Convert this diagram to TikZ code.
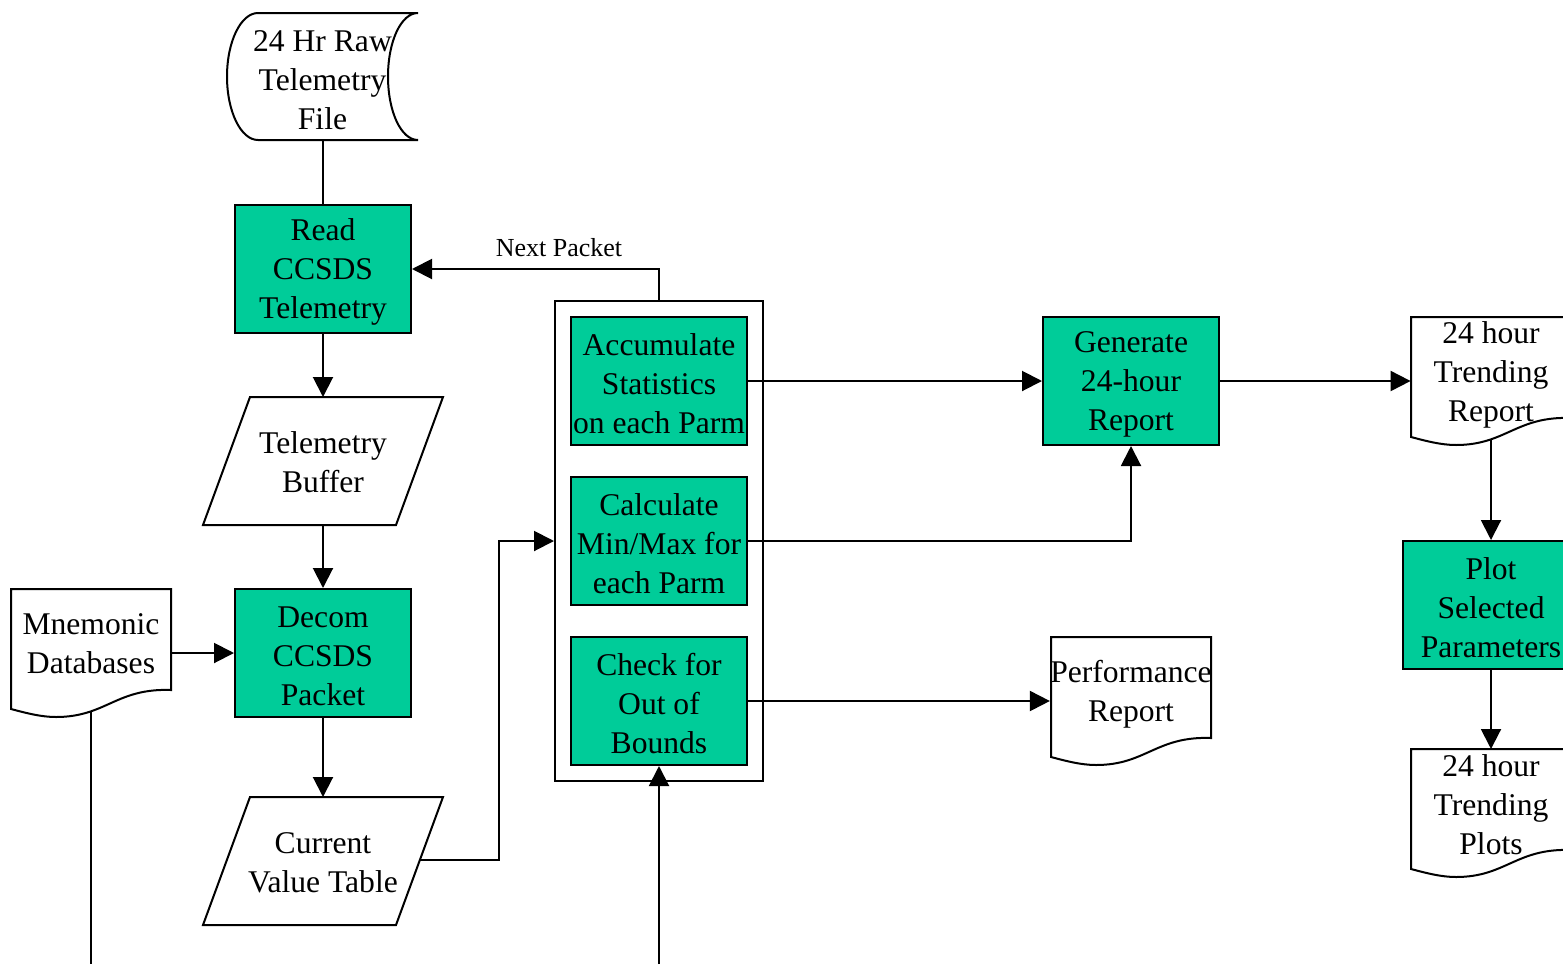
\documentclass[tikz,border=0pt]{standalone}
\usepackage{fontspec}
\setmainfont{Liberation Serif}
\usetikzlibrary{arrows.meta,calc}
\definecolor{procgreen}{HTML}{00CC99}
\tikzset{
  txt/.style={font=\fontsize{15.8}{19.5}\selectfont},
  proc/.style={draw, fill=procgreen, line width=1pt, minimum width=88pt,
    minimum height=64pt, inner sep=0pt},
  lbl/.style={txt, inner sep=0pt, align=center},
  arr/.style={line width=1pt, -{Triangle[length=10pt,width=10pt]}},
  link/.style={line width=1pt},
  outline/.style={draw, line width=1pt, fill=white},
  % page with a wavy lower edge, 160 x 128 units, anchored at its top left corner
  docshape/.pic={
    \path[outline] (0,0) -- (160,0) -- (160,101)
      .. controls (105,99) and (95,128) .. (45,128)
      .. controls (30,128) and (15,124) .. (0,120) -- cycle;
  }
}
% green process box with its caption set slightly low, as the lines sit optically
\newcommand\stepbox[3]{%
  \node[proc] (#1) at (#2) {};
  \node[lbl] (#1-text) at ($(#1)+(0,3)$) {#3};
}
\begin{document}
\begin{tikzpicture}[x=0.5pt,y=-0.5pt,line join=miter]
\useasboundingbox (0,0) rectangle (1563,964);
\fill[white] (0,0) rectangle (1563,964);
\clip (0,0) rectangle (1563,964);

% stored data: raw telemetry file
\path[outline] (258,13) -- (418,13)
  .. controls (401,13) and (388,41.5) .. (388,76.5)
  .. controls (388,111.5) and (401,140) .. (418,140) -- (258,140)
  .. controls (240.9,140) and (227,111.5) .. (227,76.5)
  .. controls (227,41.5) and (240.9,13) .. (258,13) -- cycle;
\node[lbl, minimum width=95.5pt] (raw) at (322.5,80) {24 Hr Raw\\Telemetry\\File};
\coordinate (raw-b) at (323,140);

% data buffers
\path[outline] (250,397) -- (443,397) -- (396,525) -- (203,525) -- cycle;
\node[lbl, minimum width=120pt, minimum height=64pt] (buf) at (323,462) {Telemetry\\Buffer};
\path[outline] (250,797) -- (443,797) -- (396,925) -- (203,925) -- cycle;
\node[lbl, minimum width=120pt, minimum height=64pt] (cvt) at (323,863) {Current\\Value Table};
\coordinate (buf-t) at (323,397);
\coordinate (buf-b) at (323,525);
\coordinate (cvt-t) at (323,797);
\coordinate (cvt-r) at (419.9,860);
\coordinate (cvt-bend) at (499,860);

% documents
\pic at (11,589) {docshape};
\node[lbl, minimum width=80pt] (mnem) at (91,644) {Mnemonic\\Databases};
\coordinate (mnem-b) at (91,711);
\coordinate (mnem-end) at (91,964);

\pic at (1051,637) {docshape};
\node[lbl, minimum width=80pt] (perf) at (1131,694) {Performance\\Report};

\pic at (1411,317) {docshape};
\node[lbl, minimum width=80pt] (trep) at (1491,375) {24 hour\\Trending\\Report};
\coordinate (trep-b) at (1491,439);

\pic at (1411,749) {docshape};
\node[lbl, minimum width=80pt] (tplot) at (1491,805) {24 hour\\Trending\\Plots};
\coordinate (tplot-top) at (1491,749);

% processing steps
\stepbox{read}{323,269}{Read\\CCSDS\\Telemetry}
\stepbox{decom}{323,653}{Decom\\CCSDS\\Packet}
\node[draw, line width=1pt, minimum width=104pt, minimum height=240pt, inner sep=0pt] (outer) at (659,541) {};
\stepbox{acc}{659,381}{Accumulate\\Statistics\\on each Parm}
\stepbox{calc}{659,541}{Calculate\\Min/Max for\\each Parm}
\stepbox{check}{659,701}{Check for\\Out of\\Bounds}
\stepbox{gen}{1131,381}{Generate\\24-hour\\Report}
\stepbox{plot}{1491,605}{Plot\\Selected\\Parameters}
\coordinate (chk-in) at (659,964);

% connectors
\draw[link] (raw-b) -- (read.north);
\draw[arr] (read.south) -- (buf-t);
\draw[arr] (buf-b) -- (decom.north);
\draw[arr] (decom.south) -- (cvt-t);
\draw[arr] (mnem.east |- decom.west) -- (decom.west);
\draw[link] (mnem-b) -- (mnem-end);
\draw[arr] (cvt-r) -- (cvt-bend) |- (outer.west);
\draw[arr] (outer.north) |- (read.east);
\node[font=\fontsize{13}{15}\selectfont, inner sep=0pt] (next) at (559,248) {Next Packet};
\draw[arr] (acc.east) -- (gen.west);
\draw[arr] (calc.east) -| (gen.south);
\draw[arr] (check.east) -- (check.east -| perf.west);
\draw[arr] (gen.east) -- (gen.east -| trep.west);
\draw[arr] (trep-b) -- (plot.north);
\draw[arr] (plot.south) -- (tplot-top);
\draw[arr] (chk-in) -- (check.south);
\end{tikzpicture}
\end{document}
